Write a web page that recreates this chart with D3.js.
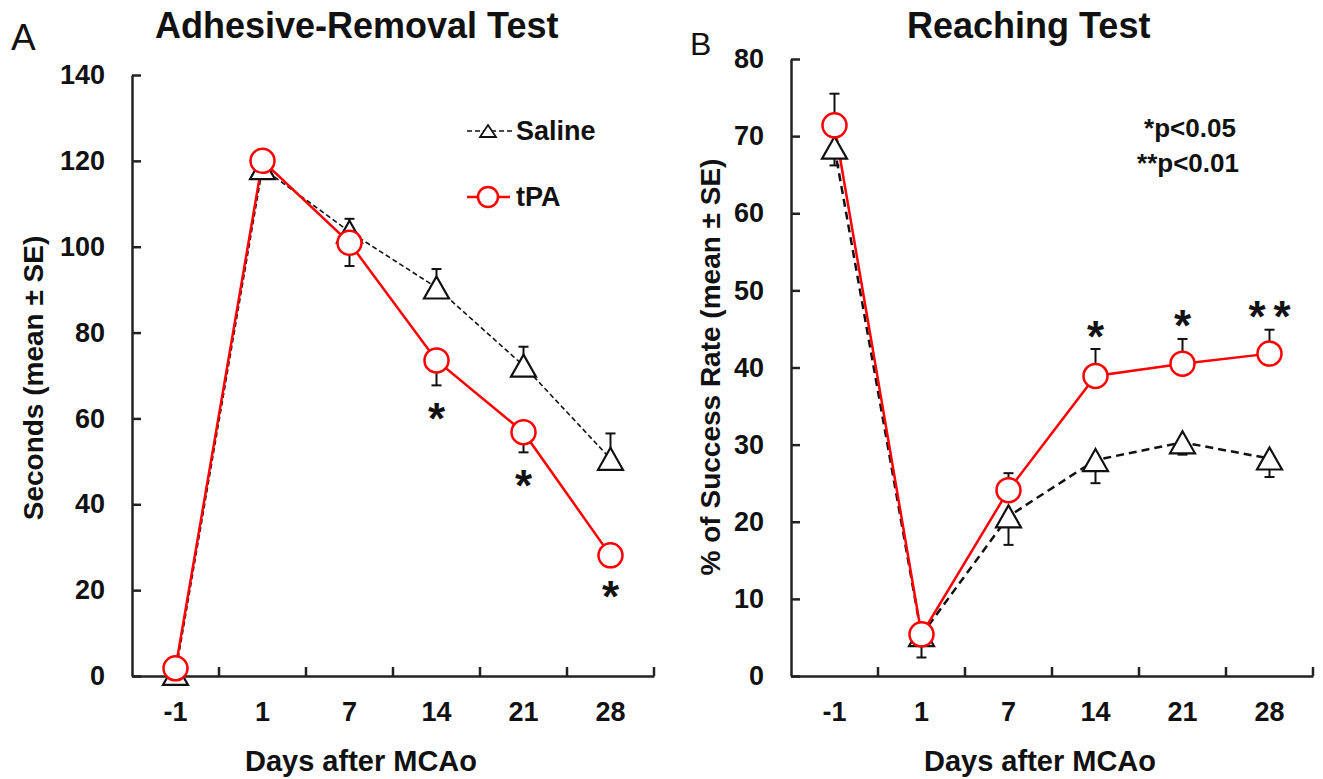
<!DOCTYPE html>
<html>
<head>
<meta charset="utf-8">
<script src="https://cdn.jsdelivr.net/npm/d3@7"></script>
<style>
  body { margin: 0; padding: 0; background: #fff; }
  text { font-family: "Liberation Sans", Arial, sans-serif; fill: #111; }
</style>
</head>
<body>
<script>
// days after MCAo
const days = ["-1", "1", "7", "14", "21", "28"];

// A: adhesive-removal test (seconds)
const salineA = [0.5, 118.3, 103.5, 90.5, 72.3, 50.6];
const salineAErr = [0, 0, 3.0, 4.3, 4.4, 5.9];
const tpaA = [1.8, 120, 100.9, 73.5, 56.8, 28.1];
const tpaAErr = [0, 0, 5.4, 5.8, 4.7, 2.0];
const starsA = ["", "", "", "*", "*", "*"];
const ticksA = [0, 20, 40, 60, 80, 100, 120, 140];

// B: reaching test (% success)
const salineB = [68.5, 5.3, 20.7, 28.0, 30.3, 28.2];
const salineBErr = [2.3, 2.9, 3.7, 3.0, 1.6, 2.4];
const tpaB = [71.4, 5.4, 24.1, 38.9, 40.5, 41.8];
const tpaBErr = [4.1, 0.5, 2.2, 3.5, 3.2, 3.1];
const starsB = ["", "", "", "*", "*", "**"];
const ticksB = [0, 10, 20, 30, 40, 50, 60, 70, 80];

const width = 1323, height = 779;
const svg = d3.select("body").append("svg")
  .attr("width", width)
  .attr("height", height);

const tri = (w, h) => `M0,${-h / 2}L${w / 2},${h / 2}L${-w / 2},${h / 2}Z`;

function panel(o) {
  const x = d3.scaleBand().domain(days).range(o.xr);
  const y = d3.scaleLinear().domain([0, o.ymax]).range(o.yr);
  const cx = d => x(d) + x.bandwidth() / 2;
  const g = svg.append("g");

  // y axis, ticks pointing in
  const ya = g.append("g")
    .attr("transform", `translate(${o.xr[0]},0)`)
    .call(d3.axisLeft(y).tickValues(o.ticks).tickSizeInner(-9).tickSizeOuter(0).tickPadding(27));
  // x axis, labels under band centres
  const xa = g.append("g")
    .attr("transform", `translate(0,${o.yr[0]})`)
    .call(d3.axisBottom(x).tickSize(0).tickPadding(26));
  xa.selectAll(".tick line").remove();
  // x ticks sit on band edges
  xa.selectAll(".edge")
    .data(days)
    .join("line")
    .attr("x1", d => x(d) + x.bandwidth())
    .attr("x2", d => x(d) + x.bandwidth())
    .attr("y1", 0)
    .attr("y2", -9);

  [ya, xa].forEach(a => {
    a.selectAll(".domain, line").attr("stroke", "#222").attr("stroke-width", 2.5);
    a.selectAll("text").attr("font-size", 27).attr("font-weight", "bold").attr("fill", "#111");
  });

  const sal = days.map((d, i) => ({ d, v: o.saline[i], e: o.salineErr[i] }));
  const tpa = days.map((d, i) => ({ d, v: o.tpa[i], e: o.tpaErr[i], s: o.stars[i] }));

  // error bars: saline one way, tPA the other
  const bars = (data, dir) => {
    const eg = g.append("g").attr("stroke", "#111").attr("stroke-width", 2);
    data.filter(p => p.e > 0).forEach(p => {
      const end = y(p.v + dir * p.e);
      eg.append("line").attr("x1", cx(p.d)).attr("x2", cx(p.d)).attr("y1", y(p.v)).attr("y2", end);
      eg.append("line").attr("x1", cx(p.d) - 5).attr("x2", cx(p.d) + 5).attr("y1", end).attr("y2", end);
    });
  };
  bars(sal, o.salDir);
  bars(tpa, -o.salDir);

  const line = d3.line().x(p => cx(p.d)).y(p => y(p.v));
  g.append("path").datum(sal)
    .attr("d", line).attr("fill", "none")
    .attr("stroke", "#111").attr("stroke-width", o.dashW).attr("stroke-dasharray", o.dash);
  g.append("path").datum(tpa)
    .attr("d", line).attr("fill", "none")
    .attr("stroke", "#ff0000").attr("stroke-width", 2.5);

  g.selectAll(".tri").data(sal).join("path")
    .attr("transform", p => `translate(${cx(p.d)},${y(p.v)})`)
    .attr("d", tri(25, 22))
    .attr("fill", "#fff").attr("stroke", "#111").attr("stroke-width", 2.2);
  g.selectAll(".dot").data(tpa).join("circle")
    .attr("cx", p => cx(p.d)).attr("cy", p => y(p.v)).attr("r", 12)
    .attr("fill", "#fff").attr("stroke", "#ff0000").attr("stroke-width", 2.5);

  // significance marks off the tPA error bar end
  const fs = 44, ls = 8;
  g.selectAll(".star").data(tpa.filter(p => p.s)).join("text")
    .attr("x", p => cx(p.d) + (p.s.length > 1 ? ls / 2 : 0))
    .attr("y", p => y(p.v - o.salDir * p.e) + o.salDir * 23 + 0.58 * fs)
    .attr("text-anchor", "middle")
    .attr("letter-spacing", p => p.s.length > 1 ? ls : 0)
    .attr("font-size", fs).attr("font-weight", "bold")
    .text(p => p.s);

  // titles
  g.append("text").attr("x", o.titleX).attr("y", 38)
    .attr("font-size", 36).attr("font-weight", "bold").text(o.title);
  g.append("text").attr("x", o.xTitleX).attr("y", 771)
    .attr("text-anchor", "middle").attr("font-size", 29).attr("font-weight", "bold")
    .text("Days after MCAo");
  g.append("text")
    .attr("transform", `translate(${o.yTitleX},${o.yTitleY}) rotate(-90)`)
    .attr("text-anchor", "middle").attr("font-size", 28).attr("font-weight", "bold")
    .text(o.yTitle);
  g.append("text").attr("x", o.letterX).attr("y", o.letterY)
    .attr("font-size", o.letterSize).text(o.letter);
  return { x, y, cx };
}

const A = panel({
  xr: [132, 654], yr: [676, 75], ymax: 140, ticks: ticksA,
  saline: salineA, salineErr: salineAErr, tpa: tpaA, tpaErr: tpaAErr, stars: starsA,
  salDir: 1, dash: "5,3", dashW: 1.6,
  title: "Adhesive-Removal Test", titleX: 155,
  xTitleX: 361, yTitle: "Seconds (mean \u00b1 SE)", yTitleX: 43, yTitleY: 378,
  letter: "A", letterX: 11, letterY: 50, letterSize: 37
});

const B = panel({
  xr: [791, 1313], yr: [676, 59], ymax: 80, ticks: ticksB,
  saline: salineB, salineErr: salineBErr, tpa: tpaB, tpaErr: tpaBErr, stars: starsB,
  salDir: -1, dash: "8,5", dashW: 2.5,
  title: "Reaching Test", titleX: 907,
  xTitleX: 1040, yTitle: "% of Success Rate (mean \u00b1 SE)", yTitleX: 720, yTitleY: 367,
  letter: "B", letterX: 690, letterY: 55, letterSize: 32
});

// legend (panel A)
const leg = svg.append("g");
leg.append("line").attr("x1", 467).attr("x2", 512).attr("y1", 131).attr("y2", 131)
  .attr("stroke", "#111").attr("stroke-width", 1.6).attr("stroke-dasharray", "5,3");
leg.append("path").attr("transform", "translate(488,131)").attr("d", tri(16, 12))
  .attr("fill", "#fff").attr("stroke", "#111").attr("stroke-width", 1.8);
leg.append("text").attr("x", 516).attr("y", 140).attr("font-size", 27).attr("font-weight", "bold").text("Saline");
leg.append("line").attr("x1", 467).attr("x2", 510).attr("y1", 197).attr("y2", 197)
  .attr("stroke", "#ff0000").attr("stroke-width", 2.5);
leg.append("circle").attr("cx", 488).attr("cy", 197).attr("r", 10)
  .attr("fill", "#fff").attr("stroke", "#ff0000").attr("stroke-width", 2.5);
leg.append("text").attr("x", 516).attr("y", 206).attr("font-size", 27).attr("font-weight", "bold").text("tPA");

// p-value note (panel B)
const note = svg.append("g");
note.append("text").attr("x", 1190).attr("y", 137).attr("text-anchor", "middle").attr("font-size", 26).attr("font-weight", "bold").text("*p<0.05");
note.append("text").attr("x", 1188).attr("y", 172).attr("text-anchor", "middle").attr("font-size", 26).attr("font-weight", "bold").text("**p<0.01");
</script>
</body>
</html>
